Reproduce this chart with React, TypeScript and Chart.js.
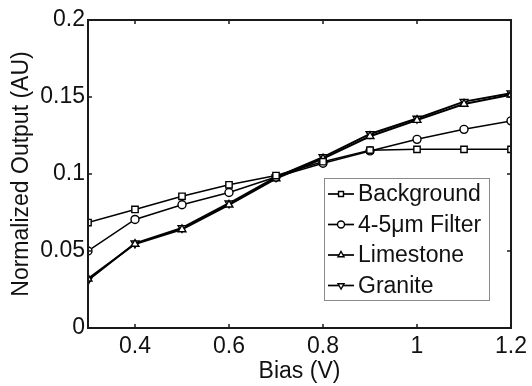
import React, { useEffect, useRef } from 'react';
import { Chart, registerables } from 'chart.js';
import { drawPoint } from 'chart.js/helpers';

Chart.register(...registerables);

const biasV = [0.3, 0.4, 0.5, 0.6, 0.7, 0.8, 0.9, 1.0, 1.1, 1.2];
const background = [0.0685, 0.077, 0.0855, 0.093, 0.099, 0.108, 0.1155, 0.116, 0.116, 0.116];
const filter = [0.05, 0.0705, 0.08, 0.088, 0.098, 0.107, 0.115, 0.1225, 0.129, 0.1345];
const limestone = [0.032, 0.0545, 0.064, 0.08, 0.097, 0.11, 0.1245, 0.135, 0.1455, 0.1515];
const granite = [0.031, 0.055, 0.065, 0.081, 0.098, 0.111, 0.126, 0.136, 0.147, 0.1525];
const seriesNames = ['Background', '4-5\u03BCm Filter', 'Limestone', 'Granite'];
const xTicks = [0.4, 0.6, 0.8, 1.0, 1.2];
const yTicks = [0, 0.05, 0.1, 0.15, 0.2];

const FONT = '"Liberation Sans", Arial, Helvetica, sans-serif';
const FS = 23;
const INK = '#111';

const styles = [
  { pointStyle: 'rect', rotation: 0, radius: 4.5 },
  { pointStyle: 'circle', rotation: 0, radius: 4 },
  { pointStyle: 'triangle', rotation: 0, radius: 4.5 },
  { pointStyle: 'triangle', rotation: 180, radius: 4.5 },
];

const framePlugin = {
  id: 'frameTicks',
  afterDatasetsDraw(chart: any) {
    const { ctx, chartArea } = chart;
    const { left, right, top, bottom } = chartArea;
    const xs = chart.scales.x;
    const ys = chart.scales.y;
    ctx.save();
    ctx.strokeStyle = '#1a1a1a';
    ctx.lineWidth = 2;
    ctx.strokeRect(left, top, right - left, bottom - top);
    ctx.lineWidth = 1.5;
    const tl = 4;
    ctx.beginPath();
    xTicks.forEach((v) => {
      const px = xs.getPixelForValue(v);
      ctx.moveTo(px, bottom);
      ctx.lineTo(px, bottom - tl);
      ctx.moveTo(px, top);
      ctx.lineTo(px, top + tl);
    });
    yTicks.forEach((v) => {
      const py = ys.getPixelForValue(v);
      ctx.moveTo(left, py);
      ctx.lineTo(left + tl, py);
      ctx.moveTo(right, py);
      ctx.lineTo(right - tl, py);
    });
    ctx.stroke();

    // legend box
    const bx = right - 187;
    const by = top + 158;
    const bw = 165;
    const bh = 122;
    ctx.fillStyle = '#fff';
    ctx.fillRect(bx, by, bw, bh);
    ctx.strokeStyle = '#8a8a8a';
    ctx.lineWidth = 1;
    ctx.strokeRect(bx + 0.5, by + 0.5, bw, bh);
    ctx.font = `${FS}px ${FONT}`;
    ctx.textBaseline = 'middle';
    ctx.textAlign = 'left';
    chart.data.datasets.forEach((ds: any, i: number) => {
      const cy = by + 16 + i * 30.5;
      ctx.strokeStyle = '#000';
      ctx.lineWidth = 1.7;
      ctx.beginPath();
      ctx.moveTo(bx + 4, cy);
      ctx.lineTo(bx + 30, cy);
      ctx.stroke();
      ctx.fillStyle = '#fff';
      ctx.lineWidth = 1.4;
      drawPoint(ctx, {
        pointStyle: styles[i].pointStyle,
        rotation: styles[i].rotation,
        radius: 3.5,
        borderWidth: 1.4,
      } as any, bx + 17, cy);
      ctx.fillStyle = INK;
      ctx.fillText(ds.label, bx + 34, cy + 1);
    });
    ctx.restore();
  },
};

export default function App() {
  const ref = useRef<HTMLCanvasElement>(null);
  useEffect(() => {
    document.body.style.margin = '0';
    const mk = (label: string, vals: number[], i: number, bw: number) => ({
      label,
      data: biasV.map((x, k) => ({ x, y: vals[k] })),
      borderColor: '#000',
      borderWidth: bw,
      backgroundColor: '#fff',
      pointBackgroundColor: '#fff',
      pointBorderColor: '#000',
      pointBorderWidth: 1.4,
      pointStyle: styles[i].pointStyle,
      pointRotation: styles[i].rotation,
      pointRadius: styles[i].radius,
      tension: 0,
    });
    const chart = new Chart(ref.current!, {
      type: 'line',
      data: {
        datasets: [
          mk(seriesNames[0], background, 0, 1.5),
          mk(seriesNames[1], filter, 1, 1.5),
          mk(seriesNames[2], limestone, 2, 2),
          mk(seriesNames[3], granite, 3, 2),
        ],
      },
      options: {
        animation: false,
        responsive: false,
        devicePixelRatio: 1,
        layout: { padding: { top: 20, right: 18, left: 0, bottom: 0 } },
        plugins: { legend: { display: false }, tooltip: { enabled: false } },
        scales: {
          x: {
            type: 'linear',
            min: 0.3,
            max: 1.2,
            grid: { display: false, drawTicks: false },
            border: { display: false },
            afterBuildTicks: (s: any) => { s.ticks = xTicks.map((v) => ({ value: v })); },
            afterFit: (s: any) => { s.height = 58; },
            ticks: {
              padding: 5,
              color: INK,
              font: { family: FONT, size: FS },
              maxRotation: 0,
              autoSkip: false,
              callback: (v: any) => String(v),
            },
            title: {
              display: true,
              text: 'Bias (V)',
              color: INK,
              font: { family: FONT, size: FS },
              padding: { top: 0, bottom: 1 },
            },
          },
          y: {
            type: 'linear',
            min: 0,
            max: 0.2,
            grid: { display: false, drawTicks: false },
            border: { display: false },
            afterBuildTicks: (s: any) => { s.ticks = yTicks.map((v) => ({ value: v })); },
            afterFit: (s: any) => { s.width = 88; },
            ticks: {
              padding: 3,
              color: INK,
              font: { family: FONT, size: FS },
              autoSkip: false,
              callback: (v: any) => String(v),
            },
            title: {
              display: true,
              text: 'Normalized Output (AU)',
              color: INK,
              font: { family: FONT, size: FS },
              padding: { top: 8, bottom: 0 },
            },
          },
        },
      },
      plugins: [framePlugin],
    } as any);
    return () => chart.destroy();
  }, []);
  return (
    <div style={{ width: 532, height: 386 }}>
      <canvas ref={ref} width={532} height={386} style={{ display: 'block' }} />
    </div>
  );
}
